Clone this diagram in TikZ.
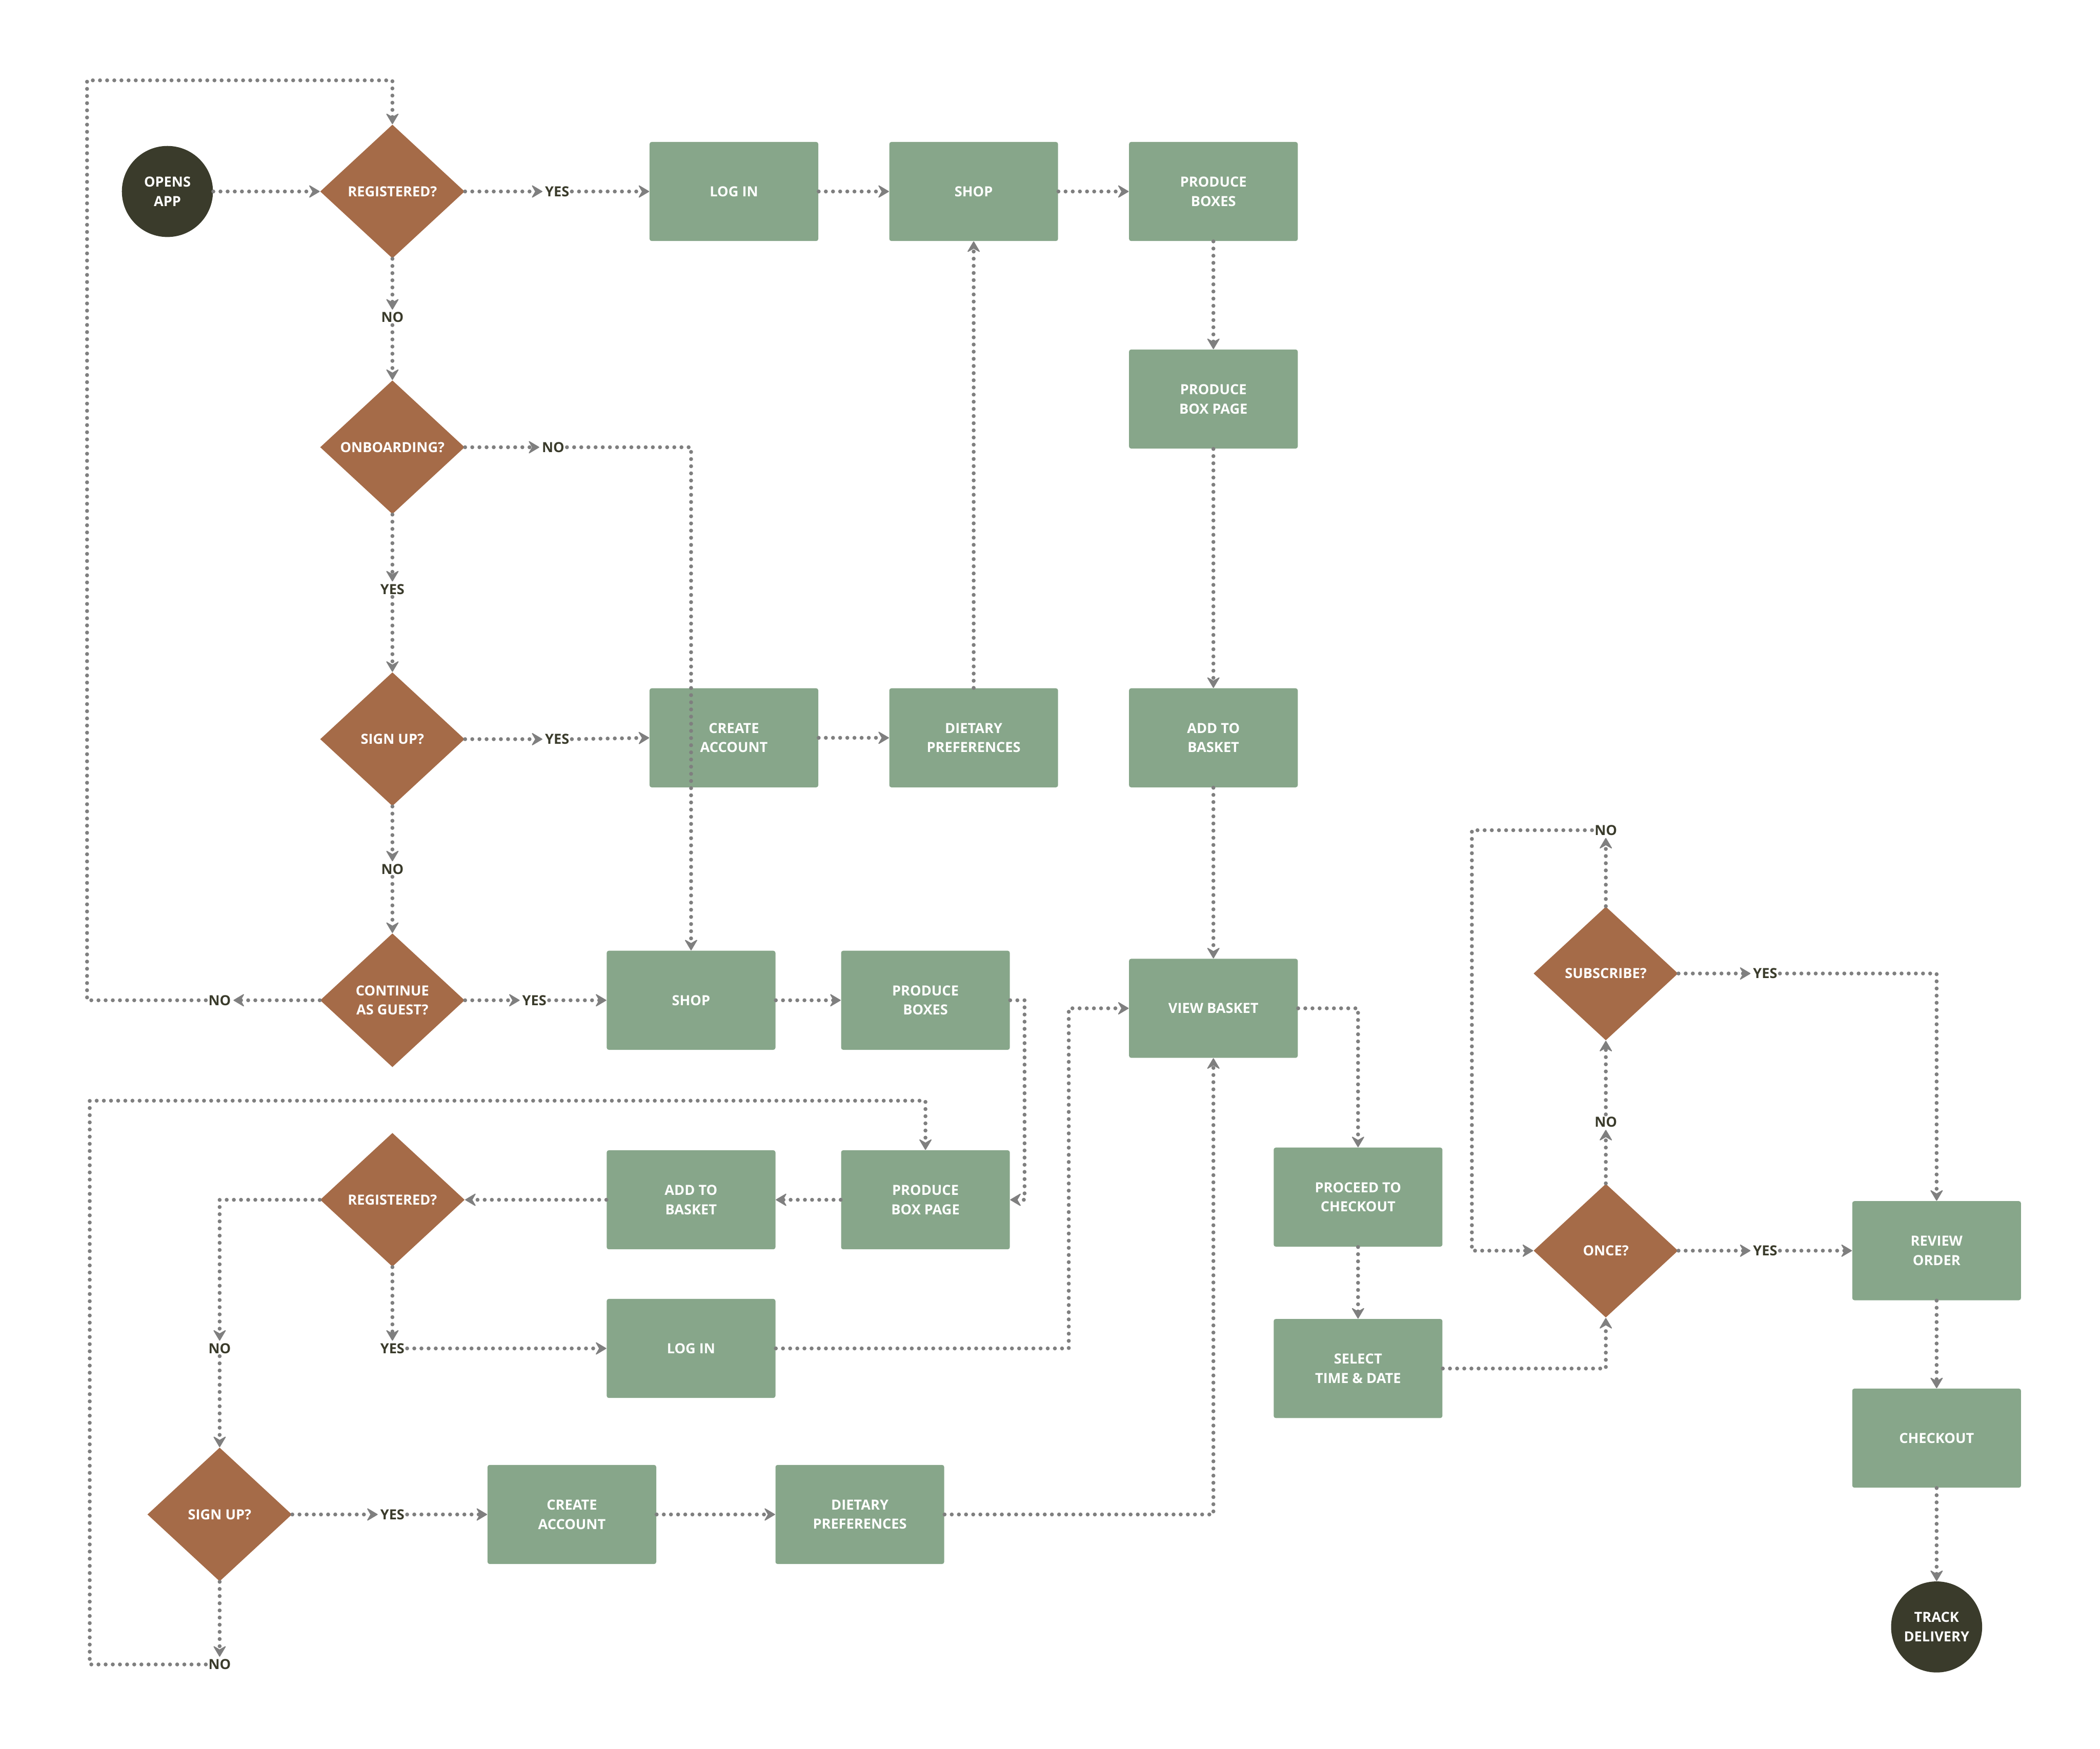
\documentclass[tikz,border=0pt]{standalone}
\usepackage{fontspec}
\setmainfont{Open Sans}
\usetikzlibrary{shapes.geometric,arrows.meta}
\definecolor{boxg}{HTML}{87A68A}
\definecolor{dia}{HTML}{A56B48}
\definecolor{dark}{HTML}{3A3B2B}
\definecolor{conn}{HTML}{7F7F7F}
\begin{document}
\begin{tikzpicture}[x=0.25mm,y=-0.25mm,
 txt/.style={font=\fontsize{7.4}{10.3}\selectfont\bfseries, align=center},
 box/.style={txt, rectangle, rounded corners=0.4mm, fill=boxg, text=white, minimum width=31.5mm, minimum height=18.5mm, inner sep=0pt},
 dec/.style={txt, diamond, fill=dia, text=white, minimum width=27mm, minimum height=25mm, inner sep=0pt},
 term/.style={txt, circle, fill=dark, text=white, minimum size=17mm, inner sep=0pt},
 lbl/.style={txt, text=dark, inner sep=1.2pt},
 link/.style={draw=conn, line width=2.1pt, line cap=round, dash pattern=on 0pt off 3.8pt, -{Stealth[length=2.2mm,width=2.6mm,inset=0.75mm,line width=0.5pt,round]}},
 plain/.style={draw=conn, line width=2.1pt, line cap=round, dash pattern=on 0pt off 3.8pt}
]
\useasboundingbox (0,0) rectangle (1568,1306);

% nodes
\node[term] (open) at (125,143) {OPENS\\APP};
\node[dec] (reg1) at (293,143) {REGISTERED?};
\node[box] (login1) at (548,143) {LOG IN};
\node[box] (shop1) at (727,143) {SHOP};
\node[box] (pb1) at (906,143) {PRODUCE\\BOXES};
\node[box] (pbp1) at (906,298) {PRODUCE\\BOX PAGE};
\node[dec] (onb) at (293,334) {ONBOARDING?};
\node[dec] (sign1) at (293,552) {SIGN UP?};
\node[box] (create1) at (548,551) {CREATE\\ACCOUNT};
\node[box] (diet1) at (727,551) {DIETARY\\PREFERENCES};
\node[box] (atb1) at (906,551) {ADD TO\\BASKET};
\node[dec] (guest) at (293,747) {CONTINUE\\AS GUEST?};
\node[box] (shop2) at (516,747) {SHOP};
\node[box] (pb2) at (691,747) {PRODUCE\\BOXES};
\node[box] (vb) at (906,753) {VIEW BASKET};
\node[dec] (reg2) at (293,896) {REGISTERED?};
\node[box] (atb2) at (516,896) {ADD TO\\BASKET};
\node[box] (pbp2) at (691,896) {PRODUCE\\BOX PAGE};
\node[box] (login2) at (516,1007) {LOG IN};
\node[dec] (sign2) at (164,1131) {SIGN UP?};
\node[box] (create2) at (427,1131) {CREATE\\ACCOUNT};
\node[box] (diet2) at (642,1131) {DIETARY\\PREFERENCES};
\node[box] (proc) at (1014,894) {PROCEED TO\\CHECKOUT};
\node[box] (sel) at (1014,1022) {SELECT\\TIME \& DATE};
\node[dec] (once) at (1199,934) {ONCE?};
\node[dec] (sub) at (1199,727) {SUBSCRIBE?};
\node[box] (rev) at (1446,934) {REVIEW\\ORDER};
\node[box] (chk) at (1446,1074) {CHECKOUT};
\node[term] (track) at (1446,1215) {TRACK\\DELIVERY};

% labels
\node[lbl] (lY1) at (416,143) {YES};
\node[lbl] (lN1) at (293,237) {NO};
\node[lbl] (lN2) at (413,334) {NO};
\node[lbl] (lY2) at (293,440) {YES};
\node[lbl] (lY3) at (416,552) {YES};
\node[lbl] (lN3) at (293,649) {NO};
\node[lbl] (lN4) at (164,747) {NO};
\node[lbl] (lY4) at (399,747) {YES};
\node[lbl] (lN5) at (164,1007) {NO};
\node[lbl] (lY5) at (293,1007) {YES};
\node[lbl] (lY6) at (293,1131) {YES};
\node[lbl] (lN6) at (164,1243) {NO};
\node[lbl] (lN7) at (1199,620) {NO};
\node[lbl] (lY7) at (1318,727) {YES};
\node[lbl] (lN8) at (1199,838) {NO};
\node[lbl] (lY8) at (1318,934) {YES};

% corner coordinates
\coordinate (c1) at (65,60);
\coordinate (c2) at (765,747);
\coordinate (c3) at (798,1007);
\coordinate (c4) at (67,822);
\coordinate (c5) at (1099,620);

% connectors
\draw[link] (open) -- (reg1.west);
\draw[link] (reg1.east) -- (lY1.west);
\draw[link] (lY1.east) -- (login1.west);
\draw[link] (login1) -- (shop1);
\draw[link] (shop1) -- (pb1);
\draw[link] (pb1) -- (pbp1);
\draw[link] (pbp1) -- (atb1);
\draw[link] (atb1) -- (vb);

\draw[link] (reg1.south) -- (lN1.north);
\draw[link] (lN1.south) -- (onb.north);
\draw[link] (onb.east) -- (lN2.west);
\draw[link] (lN2.east) -| (shop2.north);
\draw[link] (onb.south) -- (lY2.north);
\draw[link] (lY2.south) -- (sign1.north);
\draw[link] (sign1.east) -- (lY3.west);
\draw[link] (lY3.east) -- (create1.west);
\draw[link] (create1) -- (diet1);
\draw[link] (diet1) -- (shop1);
\draw[link] (sign1.south) -- (lN3.north);
\draw[link] (lN3.south) -- (guest.north);
\draw[link] (guest.west) -- (lN4.east);
\draw[link] (lN4.west) -| (c1) -| (reg1.north);
\draw[link] (guest.east) -- (lY4.west);
\draw[link] (lY4.east) -- (shop2.west);

\draw[link] (shop2) -- (pb2);
\draw[link] (pb2.east) -- (c2) |- (pbp2.east);
\draw[link] (pbp2) -- (atb2);
\draw[link] (atb2.west) -- (reg2.east);
\draw[link] (reg2.west) -| (lN5.north);
\draw[link] (lN5.south) -- (sign2.north);
\draw[link] (reg2.south) -- (lY5.north);
\draw[link] (lY5.east) -- (login2.west);
\draw[link] (login2.east) -- (c3) |- (vb.west);
\draw[link] (sign2.east) -- (lY6.west);
\draw[link] (lY6.east) -- (create2.west);
\draw[link] (create2) -- (diet2);
\draw[link] (diet2.east) -| (vb.south);
\draw[link] (sign2.south) -- (lN6.north);
\draw[link] (lN6.west) -| (c4) -| (pbp2.north);

\draw[link] (vb.east) -| (proc.north);
\draw[link] (proc) -- (sel);
\draw[link] (sel.east) -| (once.south);
\draw[link] (once.north) -- (lN8.south);
\draw[link] (lN8.north) -- (sub.south);
\draw[link] (sub.north) -- (lN7.south);
\draw[link] (lN7.west) -- (c5) |- (once.west);
\draw[link] (sub.east) -- (lY7.west);
\draw[link] (lY7.east) -| (rev.north);
\draw[link] (once.east) -- (lY8.west);
\draw[link] (lY8.east) -- (rev.west);
\draw[link] (rev) -- (chk);
\draw[link] (chk) -- (track);
\end{tikzpicture}
\end{document}
